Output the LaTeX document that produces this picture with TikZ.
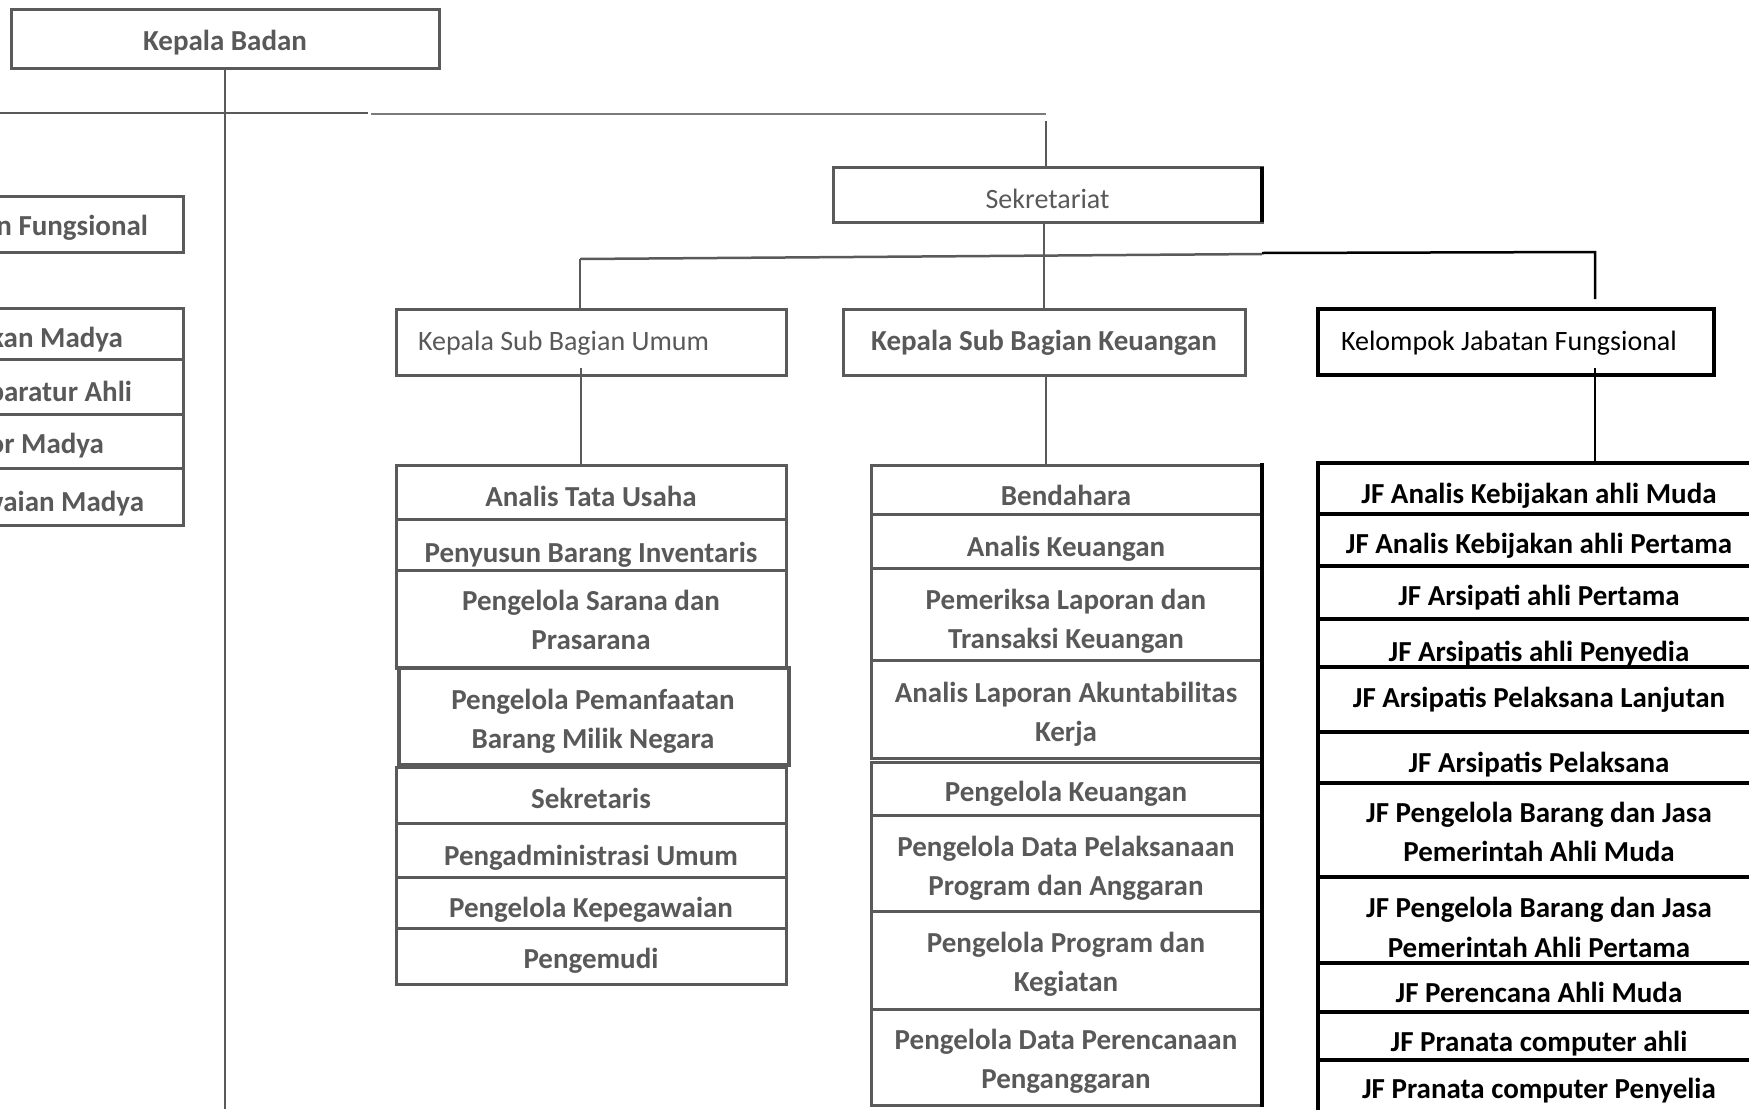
\documentclass[tikz,border=0pt]{standalone}
\usepackage{fontspec}
\setmainfont{Carlito}
\definecolor{gline}{HTML}{5A5A5A}
\definecolor{gtxt}{HTML}{595959}
\begin{document}
\begin{tikzpicture}[x=1pt,y=-1pt,
  every node/.style={inner sep=0pt, outer sep=0pt},
  gbox/.style={draw=gline, line width=3pt, fill=white},
  kbox/.style={draw=black, line width=4pt, fill=white},
  conn/.style={draw=gline, line width=2.5pt},
  kconn/.style={draw=black, line width=2.5pt},
  gt/.style={text=gtxt, font=\fontsize{29}{39}\selectfont\bfseries, anchor=base},
  gtr/.style={text=gtxt, font=\fontsize{28}{36}\selectfont, anchor=base},
  kt/.style={text=black, font=\fontsize{29}{39}\selectfont\bfseries, anchor=base},
  ktr/.style={text=black, font=\fontsize{28}{36}\selectfont, anchor=base},
]
\useasboundingbox (0,0) rectangle (1749,1109);
\fill[white] (0,0) rectangle (1749,1109);
\clip (0,0) rectangle (1749,1109);

% ---------- top level ----------
\node[gbox, minimum width=428pt, minimum height=59pt] (kb) at (225,38.5) {};
\node[gt] (kbt) at (225,50) {Kepala Badan};

\node[gbox, minimum width=429pt, minimum height=55pt] (sek) at (1047.5,194.5) {};
\node[gtr] (sekt) at (1047.5,208) {Sekretariat};
\draw[black, line width=4pt] (sek.north east) -- (sek.south east);

% left (cut off) boxes
\node[gbox, minimum width=243pt, minimum height=56pt] (lf) at (61.5,224) {};
\node[gt, anchor=base east] (lft) at (148,235) {n Fungsional};
\draw[gbox] (-60,308) rectangle (183,359);
\node[gt, anchor=base east] (l1) at (123,347) {kan Madya};
\draw[gbox] (-60,359) rectangle (183,414);
\node[gt, anchor=base east] (l2) at (132,401) {paratur Ahli};
\draw[gbox] (-60,414) rectangle (183,468);
\node[gt, anchor=base east] (l3) at (104,453) {or Madya};
\draw[gbox] (-60,468) rectangle (183,525);
\node[gt, anchor=base east] (l4) at (144,511) {waian Madya};

% second level
\node[gbox, minimum width=390pt, minimum height=66pt] (ku) at (591,342) {};
\node[gtr, anchor=base west] (kut) at (418,350) {Kepala Sub Bagian Umum};
\node[gbox, minimum width=402pt, minimum height=66pt] (kk) at (1044,342) {};
\node[gt] (kkt) at (1044,350) {Kepala Sub Bagian Keuangan};
\node[kbox, minimum width=396pt, minimum height=66pt] (kf) at (1516,342) {};
\node[ktr, anchor=base west] (kft) at (1341,350) {Kelompok Jabatan Fungsional};

% ---------- Umum column ----------
\draw[gbox] (396,465) rectangle (786,519);
\node[gt] (u1) at (591,506) {Analis Tata Usaha};
\draw[gbox] (396,519) rectangle (786,570);
\node[gt] (u2) at (591,562) {Penyusun Barang Inventaris};
\draw[gbox] (396,570) rectangle (786,668);
\node[gt] (u3a) at (591,610) {Pengelola Sarana dan};
\node[gt] (u3b) at (591,649) {Prasarana};
\draw[gbox, line width=3.5pt] (399,668) rectangle (789,765);
\node[gt] (u4a) at (593,709) {Pengelola Pemanfaatan};
\node[gt] (u4b) at (593,748) {Barang Milik Negara};
\draw[gbox] (396,767) rectangle (786,823);
\node[gt] (u5) at (591,808) {Sekretaris};
\draw[gbox] (396,823) rectangle (786,877);
\node[gt] (u6) at (591,865) {Pengadministrasi Umum};
\draw[gbox] (396,877) rectangle (786,928);
\node[gt] (u7) at (591,917) {Pengelola Kepegawaian};
\draw[gbox] (396,928) rectangle (786,984);
\node[gt] (u8) at (591,968) {Pengemudi};

% ---------- Keuangan column ----------
\draw[gbox] (871,465) rectangle (1262,514);
\node[gt] (k1) at (1066,505) {Bendahara};
\draw[gbox] (871,514) rectangle (1262,568);
\node[gt] (k2) at (1066,556) {Analis Keuangan};
\draw[gbox] (871,568) rectangle (1262,660);
\node[gt] (k3a) at (1066,609) {Pemeriksa Laporan dan};
\node[gt] (k3b) at (1066,648) {Transaksi Keuangan};
\draw[gbox] (871,660) rectangle (1262,758);
\node[gt] (k4a) at (1066,702) {Analis Laporan Akuntabilitas};
\node[gt] (k4b) at (1066,741) {Kerja};
\draw[gbox] (871,762) rectangle (1262,815);
\node[gt] (k5) at (1066,801) {Pengelola Keuangan};
\draw[gbox] (871,815) rectangle (1262,911);
\node[gt] (k6a) at (1066,856) {Pengelola Data Pelaksanaan};
\node[gt] (k6b) at (1066,895) {Program dan Anggaran};
\draw[gbox] (871,911) rectangle (1262,1009);
\node[gt] (k7a) at (1066,952) {Pengelola Program dan};
\node[gt] (k7b) at (1066,991) {Kegiatan};
\draw[gbox] (871,1009) rectangle (1262,1105);
\node[gt] (k8a) at (1066,1049) {Pengelola Data Perencanaan};
\node[gt] (k8b) at (1066,1088) {Penganggaran};
\draw[black, line width=4pt] (1262,463) -- (1262,1107);

% ---------- JF column ----------
\draw[kbox] (1318,463) rectangle (1775,514);
\node[kt] (j1) at (1539,503) {JF Analis Kebijakan ahli Muda};
\draw[kbox] (1318,514) rectangle (1775,566);
\node[kt] (j2) at (1539,553) {JF Analis Kebijakan ahli Pertama};
\draw[kbox] (1318,566) rectangle (1775,619);
\node[kt] (j3) at (1539,605) {JF Arsipati ahli Pertama};
\draw[kbox] (1318,619) rectangle (1775,667);
\node[kt] (j4) at (1539,661) {JF Arsipatis ahli Penyedia};
\draw[kbox] (1318,667) rectangle (1775,732);
\node[kt] (j5) at (1539,707) {JF Arsipatis Pelaksana Lanjutan};
\draw[kbox] (1318,732) rectangle (1775,783);
\node[kt] (j6) at (1539,772) {JF Arsipatis Pelaksana};
\draw[kbox] (1318,783) rectangle (1775,877);
\node[kt] (j7a) at (1539,822) {JF Pengelola Barang dan Jasa};
\node[kt] (j7b) at (1539,861) {Pemerintah Ahli Muda};
\draw[kbox] (1318,877) rectangle (1775,963);
\node[kt] (j8a) at (1539,917) {JF Pengelola Barang dan Jasa};
\node[kt] (j8b) at (1539,957) {Pemerintah Ahli Pertama};
\draw[kbox] (1318,963) rectangle (1775,1012);
\node[kt] (j9) at (1539,1002) {JF Perencana Ahli Muda};
\draw[kbox] (1318,1012) rectangle (1775,1060);
\node[kt] (j10) at (1539,1051) {JF Pranata computer ahli};
\draw[kbox] (1318,1060) rectangle (1775,1130);
\node[kt] (j11) at (1539,1098) {JF Pranata computer Penyelia};

% ---------- connectors ----------
\coordinate (kbBottom) at (225,1109);
\coordinate (busL) at (0,113);
\coordinate (busM) at (368,113);
\coordinate (busM2) at (371,114);
\coordinate (busR) at (1046,114);
\coordinate (sekIn) at (1046,121);
\draw[conn] (kb.south) -- (kbBottom);
\draw[conn] (busL) -- (busM);
\draw[conn, draw=gline!80] (busM2) -- (busR);
\draw[conn] (sekIn) -- (sekIn |- sek.north);

\coordinate (sekOut) at (1044,222);
\coordinate (b2L) at (580,259);
\coordinate (b2M) at (1262,254);
\coordinate (b2M2) at (1262,253);
\coordinate (b2R) at (1595,252);
\coordinate (kfIn) at (1595,299);
\draw[conn] (sekOut) -- (sekOut |- kk.north);
\draw[conn] (b2L) -- (b2M);
\draw[kconn] (b2M2) -- (b2R) -- (kfIn);
\draw[conn] (b2L) -- (b2L |- ku.north);

\coordinate (kuOut) at (581,368);
\coordinate (uTop) at (581,465);
\draw[conn] (kuOut) -- (uTop);
\coordinate (kkOut) at (1046,375);
\coordinate (kTop) at (1046,465);
\draw[conn] (kkOut) -- (kTop);
\coordinate (kfOut) at (1595,368);
\coordinate (jTop) at (1595,463);
\draw[kconn] (kfOut) -- (jTop);
\end{tikzpicture}
\end{document}
